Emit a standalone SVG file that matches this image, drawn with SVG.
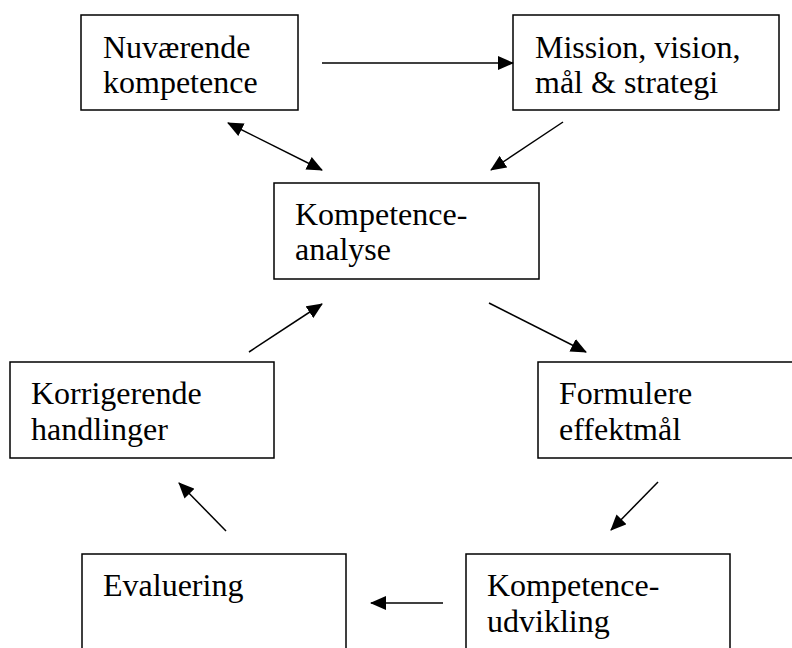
<svg xmlns="http://www.w3.org/2000/svg" width="792" height="648" viewBox="0 0 792 648">
<style>
.box{fill:#fff;stroke:#000;stroke-width:1.5}
.t{font-family:"Liberation Serif","Times New Roman",serif;font-size:32px;fill:#000}
.c{stroke:#000;stroke-width:1.5;fill:none;marker-end:url(#ah)}
</style>
<defs>
<marker id="ah" markerUnits="userSpaceOnUse" markerWidth="16" markerHeight="14" refX="15" refY="7" orient="auto-start-reverse" viewBox="0 0 16 14">
<path d="M0,0 L16,7 L0,14 z" fill="#000"/>
</marker>
</defs>
<rect width="792" height="648" fill="#fff"/>
<g id="n-nuvaerende">
<rect class="box" x="81" y="15" width="217" height="95"/>
<text class="t" x="103" y="58">Nuværende</text>
<text class="t" x="103" y="93">kompetence</text>
</g>
<g id="n-mission">
<rect class="box" x="513" y="15" width="266" height="95"/>
<text class="t" x="535" y="58">Mission, vision,</text>
<text class="t" x="535" y="93">mål &amp; strategi</text>
</g>
<g id="n-analyse">
<rect class="box" x="274" y="183" width="265" height="96"/>
<text class="t" x="295" y="225">Kompetence-</text>
<text class="t" x="295" y="260">analyse</text>
</g>
<g id="n-korrigerende">
<rect class="box" x="10" y="362" width="264" height="96"/>
<text class="t" x="31" y="404">Korrigerende</text>
<text class="t" x="31" y="440">handlinger</text>
</g>
<g id="n-formulere">
<rect class="box" x="538" y="362" width="266" height="96"/>
<text class="t" x="559" y="404">Formulere</text>
<text class="t" x="559" y="440">effektmål</text>
</g>
<g id="n-evaluering">
<rect class="box" x="82" y="554" width="264" height="110"/>
<text class="t" x="103" y="596">Evaluering</text>
</g>
<g id="n-udvikling">
<rect class="box" x="466" y="554" width="264" height="110"/>
<text class="t" x="487" y="596">Kompetence-</text>
<text class="t" x="487" y="632">udvikling</text>
</g>
<g id="connectors">
<line class="c" x1="322" y1="63" x2="513" y2="63"/>
<line class="c" x1="228" y1="123" x2="322" y2="170" style="marker-start:url(#ah)"/>
<line class="c" x1="563" y1="122" x2="491" y2="170"/>
<line class="c" x1="249" y1="352" x2="322" y2="304"/>
<line class="c" x1="489" y1="303" x2="586" y2="352"/>
<line class="c" x1="658" y1="482" x2="611" y2="530"/>
<line class="c" x1="226" y1="531" x2="179" y2="483"/>
<line class="c" x1="443" y1="603" x2="371" y2="603"/>
</g>
</svg>
